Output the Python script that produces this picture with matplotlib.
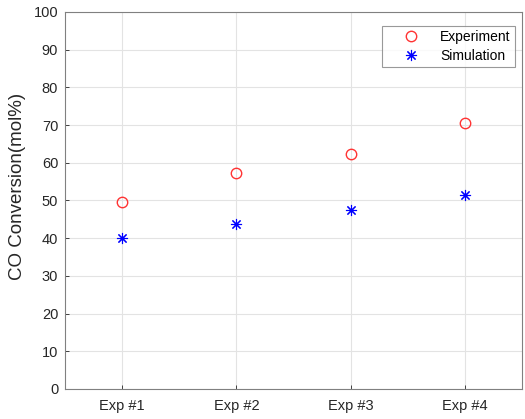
import matplotlib
matplotlib.use("Agg")
import matplotlib.pyplot as plt

plt.rcParams['font.family'] = ['Liberation Sans', 'DejaVu Sans']

# data
labels = ['Exp #1', 'Exp #2', 'Exp #3', 'Exp #4']
experiment = [49.7, 57.2, 62.2, 70.6]
simulation = [40.0, 43.8, 47.6, 51.4]
yticks = list(range(0, 101, 10))

x = list(range(1, len(labels) + 1))

fig = plt.figure(figsize=(5.25, 4.19), dpi=100)
ax = fig.add_axes([0.124, 0.0716, 0.870, 0.8998])

ax.plot(x, experiment, 'o', mfc='none', mec='#ff3333', ms=7.5, mew=1.0, label='Experiment')
ax.plot(x, simulation, linestyle='none', marker=(8, 2, 0), color='blue', ms=8,
        mew=0.8, label='Simulation')

ax.set_xlim(0.5, 4.5)
ax.set_ylim(0, 100)
ax.set_xticks(x)
ax.set_xticklabels(labels)
ax.set_yticks(yticks)
ax.grid(True, color='#e3e3e3', linewidth=0.8)
ax.set_axisbelow(True)
ax.tick_params(direction='in', length=3, labelsize=10.5, colors='#262626', width=0.6, pad=5)
ax.tick_params(axis='x', pad=7)
for s in ax.spines.values():
    s.set_color('#808080')
    s.set_linewidth(0.8)
ax.set_ylabel('CO Conversion(mol%)', fontsize=13.5, color='#262626')
ax.yaxis.set_label_coords(-0.085, 0.538)

leg = ax.legend(loc='upper right', fontsize=10, frameon=True, fancybox=False,
                edgecolor='#808080', borderpad=0.3, handletextpad=0.2, handlelength=3.7,
                labelspacing=0.32, bbox_to_anchor=(0.984, 0.963), borderaxespad=0)
leg.get_frame().set_linewidth(0.8)

fig.savefig('out.png', dpi=100)
